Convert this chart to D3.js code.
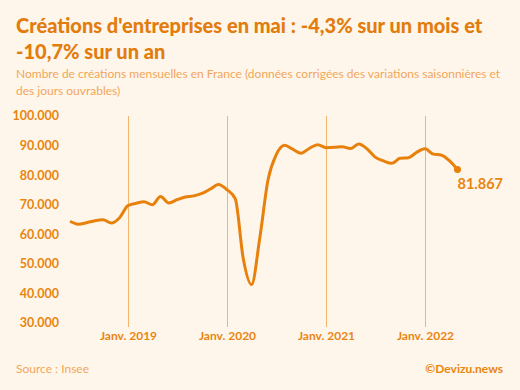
<!DOCTYPE html>
<meta charset="utf-8">
<style>

body {
  margin: 0;
  background: #fef6eb;
}

svg {
  display: block;
  font-family: Lato, "Open Sans", sans-serif;
}

.title {
  fill: #e27c0c;
  font-weight: 900;
  font-size: 20px;
}

.subtitle, .source {
  fill: #f2a65a;
  font-size: 12px;
}

.ytick, .xtick, .credit, .endlabel {
  fill: #e9850f;
  font-weight: 700;
}

.grid {
  stroke: #f4b46e;
  stroke-width: 1px;
}

.line {
  fill: none;
  stroke: #e8800c;
  stroke-width: 3px;
}

</style>
<svg width="520" height="390"></svg>
<script src="https://cdn.jsdelivr.net/npm/d3@7"></script>
<script>

// monthly values, June 2018 -> May 2022 (thousands)
var startMonth = "2018-06";
var values = [
  64.4, 63.4, 63.9, 64.6, 64.9, 63.8, 65.6,
  69.7, 70.5, 71.0, 70.0, 72.8, 70.6, 71.7, 72.6, 73.0, 73.8, 75.3, 76.8,
  75.1, 72.0, 52.0, 43.0, 58.5, 78.5, 86.9, 90.1, 88.7, 87.4, 89.1, 90.3,
  89.3, 89.4, 89.6, 89.0, 90.5, 88.9, 86.1, 84.8, 84.0, 85.7, 85.9, 87.7,
  88.9, 87.1, 86.8, 84.9, 81.867
];
var yTicks = [30, 40, 50, 60, 70, 80, 90, 100];
var xTicks = ["2019-01", "2020-01", "2021-01", "2022-01"];
var xTickLabels = ["Janv. 2019", "Janv. 2020", "Janv. 2021", "Janv. 2022"];
var lastLabel = "81.867";

var svg = d3.select("svg");
var parse = d3.timeParse("%Y-%m");
var fr = d3.formatLocale({decimal: ",", thousands: ".", grouping: [3], currency: ["", " €"]});
var fmt = fr.format(",.0f");

var start = parse(startMonth);
var data = values.map(function(v, i) {
  return {date: d3.timeMonth.offset(start, i), value: v};
});

var x = d3.scaleTime()
    .domain(d3.extent(data, function(d) { return d.date; }))
    .range([70, 457.5]);

var y = d3.scaleLinear()
    .domain([30, 100])
    .range([323, 116]);

// title
var title = svg.append("text").attr("class", "title");
title.append("tspan").attr("x", 16).attr("y", 33).text("Créations d'entreprises en mai : -4,3% sur un mois et");
title.append("tspan").attr("x", 16).attr("y", 59).text("-10,7% sur un an");

var sub = svg.append("text").attr("class", "subtitle");
sub.append("tspan").attr("x", 16).attr("y", 78).text("Nombre de créations mensuelles en France (données corrigées des variations saisonnières et");
sub.append("tspan").attr("x", 16).attr("y", 95).text("des jours ouvrables)");

// grid
xTicks.forEach(function(t, i) {
  var xx = Math.round(x(parse(t))) + 0.5;
  svg.append("line").attr("class", "grid")
      .attr("x1", xx).attr("x2", xx)
      .attr("y1", y(100)).attr("y2", y(30) + 4);
  svg.append("text").attr("class", "xtick")
      .attr("x", xx).attr("y", 340)
      .attr("text-anchor", "middle")
      .style("font-size", "12px")
      .text(xTickLabels[i]);
});

svg.selectAll(".ytick")
  .data(yTicks)
  .enter().append("text")
    .attr("class", "ytick")
    .attr("x", 59)
    .attr("y", function(d) { return y(d); })
    .attr("dy", "0.35em")
    .attr("text-anchor", "end")
    .style("font-size", "12.5px")
    .text(function(d) { return fmt(d * 1000); });

var line = d3.line()
    .curve(d3.curveMonotoneX)
    .x(function(d) { return x(d.date); })
    .y(function(d) { return y(d.value); });

svg.append("path")
    .datum(data)
    .attr("class", "line")
    .attr("d", line);

var last = data[data.length - 1];
svg.append("circle")
    .attr("cx", x(last.date))
    .attr("cy", y(last.value))
    .attr("r", 3.5)
    .style("fill", "#e8800c");

svg.append("text").attr("class", "endlabel")
    .attr("x", x(last.date))
    .attr("y", y(last.value) + 19)
    .style("font-size", "14.5px")
    .text(lastLabel);

svg.append("text").attr("class", "source")
    .attr("x", 16).attr("y", 373)
    .text("Source : Insee");

svg.append("text").attr("class", "credit")
    .attr("x", 503).attr("y", 373)
    .attr("text-anchor", "end")
    .style("font-size", "12px")
    .text("©Devizu.news");

</script>
